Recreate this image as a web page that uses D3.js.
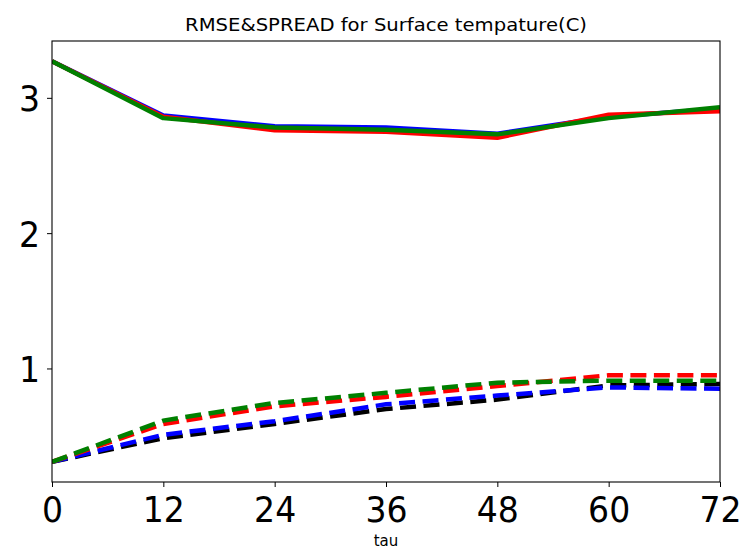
<!DOCTYPE html>
<html>
<head>
<meta charset="utf-8">
<script src="https://cdn.jsdelivr.net/npm/d3@7"></script>
<style>
  html, body { margin: 0; padding: 0; background: #fff; }
  svg { display: block; font-family: "DejaVu Sans", sans-serif; }
</style>
</head>
<body>
<svg id="chart" width="743" height="555"></svg>
<script>
// ---- data ----
const tau = [0, 12, 24, 36, 48, 60, 72];
const xTicks = [0, 12, 24, 36, 48, 60, 72];
const yTicks = [1, 2, 3];

// RMSE (solid)
const rmseBlue  = [3.27, 2.87, 2.79, 2.78, 2.735, 2.86, 2.92];
const rmseRed   = [3.27, 2.86, 2.76, 2.75, 2.705, 2.875, 2.90];
const rmseGreen = [3.27, 2.85, 2.78, 2.765, 2.73, 2.85, 2.93];

// SPREAD (dashed)
const sprBlack = [0.31, 0.485, 0.59, 0.70, 0.77, 0.875, 0.885];
const sprBlue  = [0.31, 0.51, 0.61, 0.735, 0.80, 0.86, 0.85];
const sprRed   = [0.31, 0.59, 0.72, 0.79, 0.87, 0.95, 0.95];
const sprGreen = [0.31, 0.615, 0.745, 0.82, 0.895, 0.91, 0.91];

const solidSeries = [
  {values: rmseBlue, color: "#0000ff"},
  {values: rmseRed, color: "#ff0000"},
  {values: rmseGreen, color: "#008000"}
];
const dashedSeries = [
  {values: sprBlack, color: "#000000"},
  {values: sprBlue, color: "#0000ff"},
  {values: sprRed, color: "#ff0000"},
  {values: sprGreen, color: "#008000"}
];

// ---- layout ----
const mLeft = 52, mRight = 720, mTop = 41, mBottom = 482;
const svg = d3.select("#chart");

const x = d3.scaleLinear().domain([0, 72]).range([mLeft, mRight]);
const y = d3.scaleLinear().domain([0.161, 3.42]).range([mBottom, mTop]);

const line = d3.line().x((d, i) => x(tau[i])).y(d => y(d));

const plot = svg.append("g");
plot.append("defs").append("clipPath").attr("id", "clip")
  .append("rect").attr("x", mLeft).attr("y", mTop)
  .attr("width", mRight - mLeft).attr("height", mBottom - mTop);

const lines = plot.append("g").attr("clip-path", "url(#clip)");

solidSeries.forEach(s => {
  lines.append("path").datum(s.values)
    .attr("d", line).attr("fill", "none")
    .attr("stroke", s.color).attr("stroke-width", 4.5)
    .attr("stroke-linejoin", "round");
});
dashedSeries.forEach(s => {
  lines.append("path").datum(s.values)
    .attr("d", line).attr("fill", "none")
    .attr("stroke", s.color).attr("stroke-width", 4.5)
    .attr("stroke-dasharray", "16,7.5")
    .attr("stroke-linecap", "butt");
});

// axes
const xAxis = d3.axisBottom(x).tickValues(xTicks).tickSize(5).tickPadding(5)
  .tickFormat(d3.format("d"));
const gx = svg.append("g").attr("transform", `translate(0,${mBottom})`).call(xAxis);
gx.select(".domain").remove();
gx.selectAll(".tick line").attr("stroke", "#000").attr("stroke-width", 1);
gx.selectAll(".tick text").attr("font-size", 36).attr("fill", "#000")
  .attr("font-family", "DejaVu Sans").attr("dy", null).attr("y", 40)
  .attr("transform", "scale(0.92,1)");

const yAxis = d3.axisLeft(y).tickValues(yTicks).tickSize(5).tickPadding(8)
  .tickFormat(d3.format("d"));
const gy = svg.append("g").attr("transform", `translate(${mLeft},0)`).call(yAxis);
gy.select(".domain").remove();
gy.selectAll(".tick line").attr("stroke", "#000").attr("stroke-width", 1);
gy.selectAll(".tick text").attr("font-size", 36).attr("fill", "#000")
  .attr("font-family", "DejaVu Sans").attr("dy", "0.36em")
  .attr("transform", "scale(0.92,1)");

// frame
svg.append("rect").attr("x", mLeft).attr("y", mTop)
  .attr("width", mRight - mLeft).attr("height", mBottom - mTop)
  .attr("fill", "none").attr("stroke", "#000").attr("stroke-width", 1.1);

// title
svg.append("text").attr("x", 386).attr("y", 31)
  .attr("text-anchor", "middle").attr("font-size", 18).attr("fill", "#000")
  .attr("textLength", 402).attr("lengthAdjust", "spacingAndGlyphs")
  .text("RMSE&SPREAD for Surface tempature(C)");

// x label
svg.append("text").attr("x", 386).attr("y", 546)
  .attr("text-anchor", "middle").attr("font-size", 15).attr("fill", "#000")
  .text("tau");
</script>
</body>
</html>
